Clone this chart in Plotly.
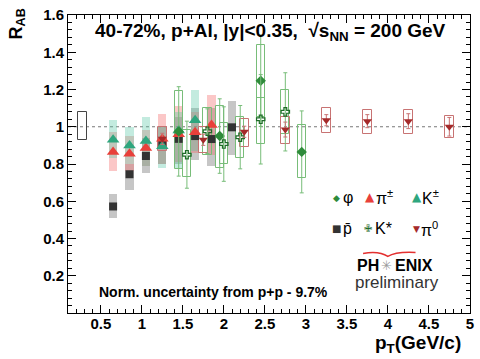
import plotly.graph_objects as go

# ---------------- data ----------------
# K+- (teal)
k_pt = [0.65, 0.85, 1.05, 1.25, 1.45, 1.65]
k_r = [0.93, 0.90, 0.923, 0.895, 0.98, 1.035]
k_hi = [1.035, 1.00, 1.055, 1.00, 1.08, 1.20]
k_lo = [0.83, 0.80, 0.79, 0.78, 0.78, 0.87]

# pi+- (red)
pi_pt = [0.65, 0.85, 1.05, 1.25, 1.45, 1.65, 1.85]
pi_r = [0.865, 0.855, 0.886, 0.935, 0.96, 0.97, 1.01]
pi_hi = [0.97, 0.95, 0.98, 1.066, 1.11, 1.08, 1.17]
pi_lo = [0.76, 0.76, 0.79, 0.80, 0.81, 0.86, 0.85]

# anti-proton (dark gray)
p_pt = [0.65, 0.85, 1.05, 1.25, 1.45, 1.65, 1.85, 2.1]
p_r = [0.572, 0.745, 0.843, 0.915, 0.935, 0.95, 0.934, 0.997]
p_hi = [0.637, 0.80, 0.94, 1.00, 1.05, 1.10, 1.10, 1.14]
p_lo = [0.51, 0.66, 0.75, 0.80, 0.80, 0.82, 0.79, 0.85]

# phi (green diamonds, open boxes)
phi_pt = [1.45, 1.95, 2.45, 2.95]
phi_r = [0.975, 0.95, 1.247, 0.865]
phi_hi = [1.19, 1.11, 1.44, 1.007]
phi_lo = [0.775, 0.78, 1.05, 0.727]
phi_err = [0.24, 0.20, 0.245, 0.22]

# K* (green open crosses, open boxes)
ks_pt = [1.55, 1.80, 2.00, 2.20, 2.45, 2.75]
ks_r = [0.85, 0.976, 0.907, 0.944, 1.04, 1.08]
ks_hi = [0.98, 1.10, 1.02, 1.05, 1.157, 1.20]
ks_lo = [0.73, 0.85, 0.80, 0.83, 0.907, 0.96]
ks_err = [0.18, 0.12, 0.20, 0.17, 0.24, 0.21]

# pi0 (dark red down triangles, open boxes)
pi0_pt = [1.25, 1.75, 2.25, 2.75, 3.25, 3.75, 4.25, 4.75]
pi0_r = [0.935, 0.93, 0.973, 0.985, 1.035, 1.03, 1.03, 1.00]
pi0_hi = [1.00, 1.00, 1.04, 1.055, 1.10, 1.09, 1.09, 1.06]
pi0_lo = [0.87, 0.86, 0.89, 0.907, 0.965, 0.96, 0.96, 0.94]
pi0_err = [0.03, 0.03, 0.03, 0.04, 0.03, 0.035, 0.04, 0.05]

# normalisation box
norm_pt = [0.275]
norm_lo = [0.928]
norm_hi = [1.08]

x_ticks = [0.5, 1, 1.5, 2, 2.5, 3, 3.5, 4, 4.5, 5]
x_ticktext = ["0.5", "1", "1.5", "2", "2.5", "3", "3.5", "4", "4.5", "5"]
y_ticks = [0.2, 0.4, 0.6, 0.8, 1.0, 1.2, 1.4, 1.6]
y_ticktext = ["0.2", "0.4", "0.6", "0.8", "1", "1.2", "1.4", "1.6"]

# ---------------- layout geometry ----------------
W, H = 480, 359
ML, MR, MT, MB = 68, 6, 13, 46
PW, PH = W - ML - MR, H - MT - MB


def fx(px):
    return (px - ML) / PW


def fy(py):
    return (H - MB - py) / PH


FONT = "Liberation Sans, Arial, sans-serif"

GREEN = "#2e8b3a"
GREEN_BOX = "#78bd79"
TEAL = "#2fa67e"
RED = "#e8403a"
DRED = "#a52a2a"
DRED_BOX = "#c87373"
GRAY = "#333333"

fig = go.Figure()


def box(x, lo, hi, fill, line, width=0.1, lw=1):
    fig.add_trace(go.Bar(
        x=x, y=[h - l for h, l in zip(hi, lo)], base=lo, width=width,
        marker=dict(color=fill, line=dict(color=line, width=lw)),
        showlegend=False, hoverinfo="skip"))


# filled systematic boxes
box(p_pt, p_lo, p_hi, "rgba(120,120,120,0.42)", "rgba(0,0,0,0)", lw=0)
box(pi_pt, pi_lo, pi_hi, "rgba(245,100,100,0.36)", "rgba(0,0,0,0)", lw=0)
box(k_pt, k_lo, k_hi, "rgba(90,200,165,0.36)", "rgba(0,0,0,0)", lw=0)
# open systematic boxes
box(phi_pt, phi_lo, phi_hi, "rgba(0,0,0,0)", GREEN_BOX, width=0.1)
box(ks_pt, ks_lo, ks_hi, "rgba(0,0,0,0)", GREEN_BOX, width=0.1)
box(pi0_pt, pi0_lo, pi0_hi, "rgba(0,0,0,0)", DRED_BOX, width=0.11)
box(norm_pt, norm_lo, norm_hi, "rgba(0,0,0,0)", "#444444", width=0.11)


def pts(x, y, sym, color, size, err=None, ecolor=None, lw=0):
    kw = {}
    if err is not None:
        kw["error_y"] = dict(type="data", array=err, color=ecolor, thickness=1, width=2)
    fig.add_trace(go.Scatter(
        x=x, y=y, mode="markers",
        marker=dict(symbol=sym, color=color, size=size, line=dict(width=lw, color=color)),
        showlegend=False, hoverinfo="skip", **kw))


pts(p_pt, p_r, "square", GRAY, 8)
pts(pi_pt, pi_r, "triangle-up", RED, 11)
pts(k_pt, k_r, "triangle-up", TEAL, 11)
pts(phi_pt, phi_r, "diamond", GREEN, 8, phi_err, GREEN_BOX)
pts(ks_pt, ks_r, "cross-open", "#1e6b28", 7, ks_err, GREEN_BOX, lw=1.2)
pts(pi0_pt, pi0_r, "triangle-down", DRED, 8, pi0_err, DRED_BOX)

annotations = []


def txt(x, y, text, size, color="black", bold=False, xanchor="left", angle=0, family=FONT):
    annotations.append(dict(
        x=fx(x), y=fy(y), xref="paper", yref="paper", text=text, showarrow=False,
        xanchor=xanchor, yanchor="middle", textangle=angle, borderpad=0,
        font=dict(family=family, size=size, color=color, weight="bold" if bold else "normal")))


# title
txt(273, 30, "40-72%, p+Al, |y|<0.35,  √s<sub>NN</sub> = 200 GeV", 19, bold=True, xanchor="center")
# axis titles
txt(17, 22, "R<sub>AB</sub>", 18, bold=True, xanchor="center", angle=-90)
txt(421, 344, "p<sub>T</sub>(GeV/c)", 19, bold=True, xanchor="center")
# norm text
txt(98, 292, "Norm. uncertainty from p+p - 9.7%", 14, bold=True)

# legend (symbols + labels)
leg = [
    (339, 197, "◆", GREEN, 9, "φ", 345),
    (373, 196, "▲", RED, 12, "π<sup>±</sup>", 378),
    (420, 196, "▲", TEAL, 12, "K<sup>±</sup>", 425),
    (339, 228, "■", GRAY, 10, "p̄", 345),
    (371, 228, "✙", "#1e6b28", 10, "K*", 377),
    (420, 228, "▼", DRED, 9, "π<sup>0</sup>", 424),
]
for sx, sy, sym, col, ss, lab, tx in leg:
    txt(sx, sy, sym, ss, color=col, xanchor="center", family="DejaVu Sans")
    txt(tx, sy, lab, 16)

# PHENIX logo
txt(359, 265, "PH", 16, bold=True)
txt(390, 265, "✳", 13, color="#9a9a9a", xanchor="center", family="DejaVu Sans")
txt(397, 265, "ENIX", 16, bold=True)
txt(400, 282, "preliminary", 17, color="#333333", xanchor="center")

axis_common = dict(
    showgrid=False, zeroline=False, showline=True, linecolor="black", linewidth=1,
    mirror="ticks", ticks="inside", tickcolor="black", tickwidth=1,
    ticklabeloverflow="allow",
    tickfont=dict(family=FONT, size=15, color="black", weight="bold"))

fig.update_layout(
    width=W, height=H, margin=dict(l=ML, r=MR, t=MT, b=MB, pad=0),
    paper_bgcolor="white", plot_bgcolor="white",
    barmode="overlay", bargap=0, showlegend=False,
    xaxis=dict(range=[0.1, 5.002], tickvals=x_ticks, ticktext=x_ticktext, ticklen=8,
               ticklabelstandoff=-3,
               minor=dict(ticks="inside", ticklen=4, dtick=0.1, tick0=0, tickcolor="black"),
               **axis_common),
    yaxis=dict(range=[0, 1.6], tickvals=y_ticks, ticktext=y_ticktext, ticklen=8,
               minor=dict(ticks="inside", ticklen=4, dtick=0.04, tick0=0, tickcolor="black"),
               **axis_common),
    annotations=annotations,
)

# dotted reference line at R_AB = 1
fig.add_shape(type="line", xref="paper", yref="y", x0=0, x1=1, y0=1, y1=1,
              line=dict(color="#777777", width=1, dash="dot"), layer="below")

# PHENIX logo arc
fig.add_shape(
    type="path", xref="paper", yref="paper",
    path="M {:.4f},{:.4f} Q {:.4f},{:.4f} {:.4f},{:.4f} Q {:.4f},{:.4f} {:.4f},{:.4f}".format(
        fx(366), fy(253), fx(382), fy(250), fx(391), fy(256),
        fx(399), fy(251), fx(419), fy(252)),
    line=dict(color="#e33030", width=1.5, dash="solid"))

fig.write_html("out.html", config={"displayModeBar": False},
               post_script="document.body.style.margin='0px';")
